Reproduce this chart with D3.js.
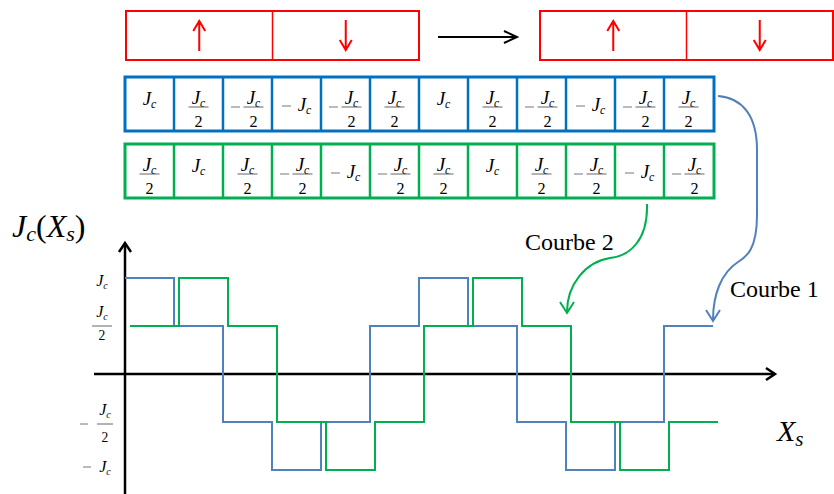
<!DOCTYPE html>
<html>
<head>
<meta charset="utf-8">
<script src="https://cdn.jsdelivr.net/npm/d3@7"></script>
<style>
  body { margin: 0; background: #fff; }
  svg { display: block; }
  svg text { font-family: "Liberation Serif", "DejaVu Serif", serif; }
</style>
</head>
<body>
<svg id="chart" width="834" height="494"></svg>
<script>
// --- data -------------------------------------------------------------
// step values in units of Jc, one per cell / per step
var courbe1 = [1, 0.5, -0.5, -1, -0.5, 0.5, 1, 0.5, -0.5, -1, -0.5, 0.5];
var courbe2 = [0.5, 1, 0.5, -0.5, -1, -0.5, 0.5, 1, 0.5, -0.5, -1, -0.5];
var yTicks = [1, 0.5, -0.5, -1];
var magnets = [["up", "down"], ["up", "down"]];
var curveNames = ["Courbe 1", "Courbe 2"];

var BLUE = "#4F81BD", GREEN = "#00B050", ROWBLUE = "#0070C0", RED = "#FF0000";

var svg = d3.select("#chart");

var x = d3.scaleLinear().domain([0, courbe1.length]).range([125, 713]);
var y = d3.scaleLinear().domain([-1, 1]).range([470, 278]);

// --- math text helpers ------------------------------------------------
function jc(g, cx, base, size) {
    var t = g.append("text")
        .attr("x", cx).attr("y", base)
        .attr("font-size", size)
        .attr("text-anchor", "middle");
    t.append("tspan").attr("font-style", "italic").text("J");
    t.append("tspan").attr("font-style", "italic")
        .attr("font-size", size * 0.62).attr("dy", size * 0.18).text("c");
    return t;
}

function minus(g, cx, yy, w) {
    g.append("line")
        .attr("x1", cx - w / 2).attr("x2", cx + w / 2)
        .attr("y1", yy).attr("y2", yy)
        .attr("stroke", "#777").attr("stroke-width", 1);
}

function frac(g, cx, bar, size, up, down, w) {
    jc(g, cx, bar - up, size);
    g.append("line")
        .attr("x1", cx - w / 2).attr("x2", cx + w / 2)
        .attr("y1", bar).attr("y2", bar)
        .attr("stroke", "#666").attr("stroke-width", 1);
    g.append("text").attr("x", cx).attr("y", bar + down)
        .attr("font-size", size * 0.85)
        .attr("text-anchor", "middle").text("2");
}

// value label inside a row cell
function cellLabel(g, v, cx, mid) {
    var s = 19;
    if (v === 1) {
        jc(g, cx, mid + 1, s);
    } else if (v === -1) {
        minus(g, cx - 10, mid + 2, 9);
        jc(g, cx + 8, mid + 7, s);
    } else if (v === 0.5) {
        frac(g, cx, mid + 3, s, 3, 20, 20);
    } else {
        minus(g, cx - 12, mid + 3, 9);
        frac(g, cx + 6, mid + 3, s, 3, 20, 20);
    }
}

// --- magnets row ------------------------------------------------------
var magnetBoxes = [[126, 419], [540, 833]];
magnets.forEach(function (pair, k) {
    var x0 = magnetBoxes[k][0], x1 = magnetBoxes[k][1], xm = (x0 + x1) / 2;
    var g = svg.append("g");
    g.append("rect").attr("x", x0).attr("y", 11).attr("width", x1 - x0).attr("height", 49)
        .attr("fill", "none").attr("stroke", RED).attr("stroke-width", 2);
    g.append("line").attr("x1", xm).attr("x2", xm).attr("y1", 11).attr("y2", 60)
        .attr("stroke", RED).attr("stroke-width", 1.5);
    pair.forEach(function (dir, j) {
        var cx = j === 0 ? (x0 + xm) / 2 : (xm + x1) / 2;
        var tip = dir === "up" ? 21 : 50, tail = dir === "up" ? 51 : 20;
        var back = dir === "up" ? tip + 10 : tip - 10;
        g.append("path")
            .attr("d", "M" + cx + "," + tail + "L" + cx + "," + tip +
                "M" + (cx - 6) + "," + back + "L" + cx + "," + tip + "L" + (cx + 6) + "," + back)
            .attr("fill", "none").attr("stroke", RED).attr("stroke-width", 2);
    });
});

// black arrow between magnets
svg.append("path")
    .attr("d", "M438,37L517,37M504,31L517,37L504,43")
    .attr("fill", "none").attr("stroke", "#000").attr("stroke-width", 2);

// --- value rows -------------------------------------------------------
function drawRow(vals, top, color) {
    var h = 54, mid = top + h / 2;
    var g = svg.append("g");
    vals.forEach(function (v, i) {
        cellLabel(g, v, (x(i) + x(i + 1)) / 2, mid);
    });
    g.selectAll("line.div").data(d3.range(1, vals.length)).enter().append("line")
        .attr("x1", function (i) { return x(i); }).attr("x2", function (i) { return x(i); })
        .attr("y1", top).attr("y2", top + h)
        .attr("stroke", color).attr("stroke-width", 2.5);
    g.append("rect").attr("x", x(0)).attr("y", top)
        .attr("width", x(vals.length) - x(0) + 1).attr("height", h)
        .attr("fill", "none").attr("stroke", color).attr("stroke-width", 3);
}
drawRow(courbe1, 77, ROWBLUE);
drawRow(courbe2, 144, GREEN);

// --- plot -------------------------------------------------------------
var axes = svg.append("g").attr("stroke", "#000").attr("stroke-width", 2.5).attr("fill", "none");
axes.append("path").attr("d", "M" + x(0) + ",494L" + x(0) + "," + (y(1) - 35));
axes.append("path").attr("d", "M" + (x(0) - 6) + "," + (y(1) - 26) + "L" + x(0) + "," + (y(1) - 35) + "L" + (x(0) + 6) + "," + (y(1) - 26));
axes.append("path").attr("d", "M94," + y(0) + "L775," + y(0));
axes.append("path").attr("d", "M766," + (y(0) - 6) + "L775," + y(0) + "L766," + (y(0) + 6));

// y tick labels
var tg = svg.append("g");
yTicks.forEach(function (v) {
    var ty = y(v);
    if (v === 1) jc(tg, 102, ty + 8, 16);
    else if (v === -1) { minus(tg, 87, ty - 3, 8); jc(tg, 105, ty + 2, 16); }
    else if (v === 0.5) frac(tg, 102, ty, 16, 9, 14, 20);
    else { minus(tg, 84, ty + 2, 8); frac(tg, 105, ty + 2, 16, 9, 18, 16); }
});

// step curves
function stepPts(vals) {
    var p = vals.map(function (v, i) { return [i, v]; });
    p.push([vals.length, vals[vals.length - 1]]);
    return p;
}
var step = d3.line()
    .x(function (d) { return x(d[0]); })
    .y(function (d) { return y(d[1]); })
    .curve(d3.curveStepAfter);

svg.append("path").attr("d", step(stepPts(courbe1)))
    .attr("fill", "none").attr("stroke", BLUE).attr("stroke-width", 2);
svg.append("path").attr("d", step(stepPts(courbe2)))
    .attr("transform", "translate(5,0)")
    .attr("fill", "none").attr("stroke", GREEN).attr("stroke-width", 2);

// axis titles
var t1 = svg.append("text").attr("x", 12).attr("y", 237).attr("font-size", 32);
t1.append("tspan").attr("font-style", "italic").text("J");
t1.append("tspan").attr("font-style", "italic").attr("font-size", 22).attr("dy", 4).text("c");
t1.append("tspan").attr("dy", -4).text("(");
t1.append("tspan").attr("font-style", "italic").text("X");
t1.append("tspan").attr("font-style", "italic").attr("font-size", 22).attr("dy", 4).text("s");
t1.append("tspan").attr("dy", -4).text(")");

var t2 = svg.append("text").attr("x", 777).attr("y", 441).attr("font-size", 30);
t2.append("tspan").attr("font-style", "italic").text("X");
t2.append("tspan").attr("font-style", "italic").attr("font-size", 21).attr("dy", 5).text("s");

// annotations
svg.append("text").attr("x", 525).attr("y", 250).attr("font-size", 24).text(curveNames[1]);
svg.append("text").attr("x", 730).attr("y", 297).attr("font-size", 24).text(curveNames[0]);

svg.append("path")
    .attr("d", "M718,96C742,98 757,115 757,150L757,215C757,250 746,257 738,262C721,273 713,295 713,320" +
        "M706,310L713,321L720,310")
    .attr("fill", "none").attr("stroke", BLUE).attr("stroke-width", 2);
svg.append("path")
    .attr("d", "M647,204C648,240 630,256 610,258C585,262 567,285 567,312" +
        "M560,302L567,313L574,302")
    .attr("fill", "none").attr("stroke", GREEN).attr("stroke-width", 2);
</script>
</body>
</html>
